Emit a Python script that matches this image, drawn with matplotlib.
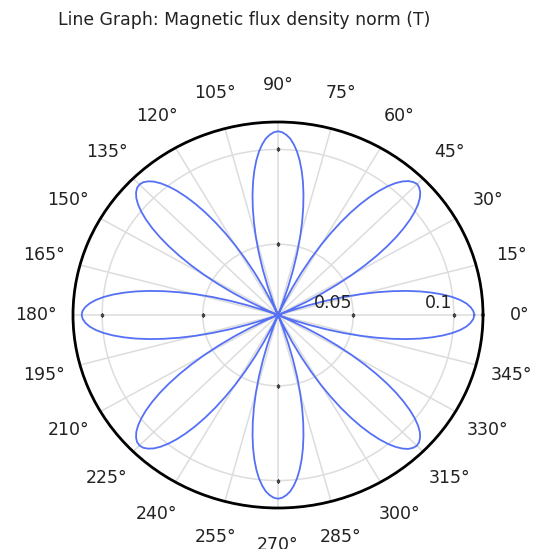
"""
Polar line graph of magnetic flux density norm (T)
"""

import numpy as np
import matplotlib
matplotlib.use("Agg")
import matplotlib.pyplot as plt


# Angles (deg) and flux density norm (T), every 1.25 deg
angle_deg = np.arange(0, 360.01, 1.25)
b_norm = [
    # 0 deg petal
    0.1102, 0.1097, 0.1084, 0.1064, 0.1035, 0.0998, 0.0953, 0.0901, 0.0843, 0.0778, 0.0707, 0.0631,
    0.0550, 0.0465, 0.0376, 0.0285, 0.0191, 0.0126, 0.0126, 0.0126, 0.0191, 0.0285, 0.0376, 0.0465,
    0.0550, 0.0631, 0.0707, 0.0778, 0.0843, 0.0901, 0.0953, 0.0998, 0.1035, 0.1064, 0.1085, 0.1098,
    # 45 deg petal
    0.1104, 0.1098, 0.1085, 0.1064, 0.1035, 0.0998, 0.0953, 0.0901, 0.0843, 0.0778, 0.0707, 0.0631,
    0.0550, 0.0465, 0.0376, 0.0285, 0.0191, 0.0126, 0.0126, 0.0126, 0.0191, 0.0285, 0.0376, 0.0465,
    0.0550, 0.0630, 0.0705, 0.0775, 0.0840, 0.0898, 0.0950, 0.0994, 0.1030, 0.1059, 0.1078, 0.1091,
    # 90 deg petal
    0.1096, 0.1091, 0.1078, 0.1059, 0.1030, 0.0994, 0.0950, 0.0898, 0.0840, 0.0775, 0.0705, 0.0630,
    0.0550, 0.0465, 0.0376, 0.0285, 0.0191, 0.0126, 0.0126, 0.0126, 0.0191, 0.0285, 0.0376, 0.0465,
    0.0550, 0.0631, 0.0707, 0.0778, 0.0843, 0.0901, 0.0953, 0.0997, 0.1034, 0.1063, 0.1083, 0.1096,
    # 135 deg petal
    0.1100, 0.1096, 0.1083, 0.1063, 0.1034, 0.0997, 0.0953, 0.0901, 0.0843, 0.0778, 0.0707, 0.0631,
    0.0550, 0.0465, 0.0376, 0.0285, 0.0191, 0.0126, 0.0126, 0.0126, 0.0191, 0.0285, 0.0376, 0.0465,
    0.0550, 0.0631, 0.0707, 0.0778, 0.0843, 0.0901, 0.0953, 0.0998, 0.1035, 0.1064, 0.1085, 0.1098,
    # 180 deg petal
    0.1102, 0.1097, 0.1084, 0.1064, 0.1035, 0.0998, 0.0953, 0.0901, 0.0843, 0.0778, 0.0707, 0.0631,
    0.0550, 0.0465, 0.0376, 0.0285, 0.0191, 0.0126, 0.0126, 0.0126, 0.0191, 0.0285, 0.0376, 0.0465,
    0.0550, 0.0631, 0.0707, 0.0778, 0.0843, 0.0901, 0.0953, 0.0997, 0.1034, 0.1063, 0.1083, 0.1096,
    # 225 deg petal
    0.1100, 0.1096, 0.1083, 0.1063, 0.1034, 0.0997, 0.0953, 0.0901, 0.0843, 0.0778, 0.0707, 0.0631,
    0.0550, 0.0465, 0.0376, 0.0285, 0.0191, 0.0126, 0.0126, 0.0126, 0.0191, 0.0285, 0.0376, 0.0465,
    0.0550, 0.0630, 0.0705, 0.0775, 0.0840, 0.0898, 0.0950, 0.0994, 0.1030, 0.1059, 0.1078, 0.1091,
    # 270 deg petal
    0.1096, 0.1091, 0.1078, 0.1059, 0.1030, 0.0994, 0.0950, 0.0898, 0.0840, 0.0775, 0.0705, 0.0630,
    0.0550, 0.0465, 0.0376, 0.0285, 0.0191, 0.0126, 0.0126, 0.0126, 0.0191, 0.0285, 0.0376, 0.0465,
    0.0550, 0.0631, 0.0707, 0.0778, 0.0843, 0.0901, 0.0953, 0.0998, 0.1035, 0.1064, 0.1085, 0.1097,
    # 315 deg petal
    0.1102, 0.1097, 0.1084, 0.1064, 0.1035, 0.0998, 0.0953, 0.0901, 0.0843, 0.0778, 0.0707, 0.0631,
    0.0550, 0.0465, 0.0376, 0.0285, 0.0191, 0.0126, 0.0126, 0.0126, 0.0191, 0.0285, 0.0376, 0.0465,
    0.0550, 0.0631, 0.0707, 0.0778, 0.0843, 0.0901, 0.0953, 0.0998, 0.1035, 0.1064, 0.1084, 0.1097,
    # back to 0 deg
    0.1102,
]

# Axis settings
r_min = 0.0126
r_max = 0.1145
r_ticks = [0.05, 0.1]
r_tick_labels = ["0.05", "0.1"]
theta_ticks = list(range(0, 360, 15))
theta_labels = [str(t) + "\u00b0" for t in theta_ticks]
title = "Line Graph: Magnetic flux density norm (T)"

# little tick marks on the rings along the main axes
mark_theta = [0, 0, 90, 90, 180, 180, 270, 270]
mark_r = [0.05, 0.1] * 4


fig = plt.figure(figsize=(5.33, 5.49), dpi=100)
ax = fig.add_axes([73/533, 41/549, 410/533, 386/549], projection="polar")
ax.set_aspect("auto")

ax.plot(np.deg2rad(angle_deg), b_norm, color="#5570f5", lw=1.3, zorder=3)
ax.plot(np.deg2rad(mark_theta), mark_r, ls="none", marker="s", ms=1.5,
        color="#444444", zorder=2)

ax.set_rlim(r_min, r_max)
ax.set_rticks(r_ticks)
ax.set_yticklabels([])
ax.set_thetagrids(theta_ticks, [""] * len(theta_ticks))
ax.grid(True, color="#dddddd", lw=1.1)
ax.spines["polar"].set_color("black")
ax.spines["polar"].set_linewidth(2.0)

# angle labels, 37 px outside the rim
for t, lab in zip(theta_ticks, theta_labels):
    a = np.deg2rad(t)
    ax.annotate(lab, xy=(a, r_max), xytext=(37*np.cos(a), 37*np.sin(a)),
                textcoords="offset pixels", ha="center", va="center",
                fontsize=12.5, color="#222222", annotation_clip=False)

for r, lab in zip(r_ticks, r_tick_labels):
    ax.annotate(lab, xy=(0, r), xytext=(-1, 7), textcoords="offset pixels",
                ha="right", va="baseline", fontsize=12.5, color="#222222",
                zorder=4)

fig.text(58/533, 1 - 20/549, title, ha="left", va="center", fontsize=12.4,
         color="#222222")

fig.savefig("out.png", dpi=100)
